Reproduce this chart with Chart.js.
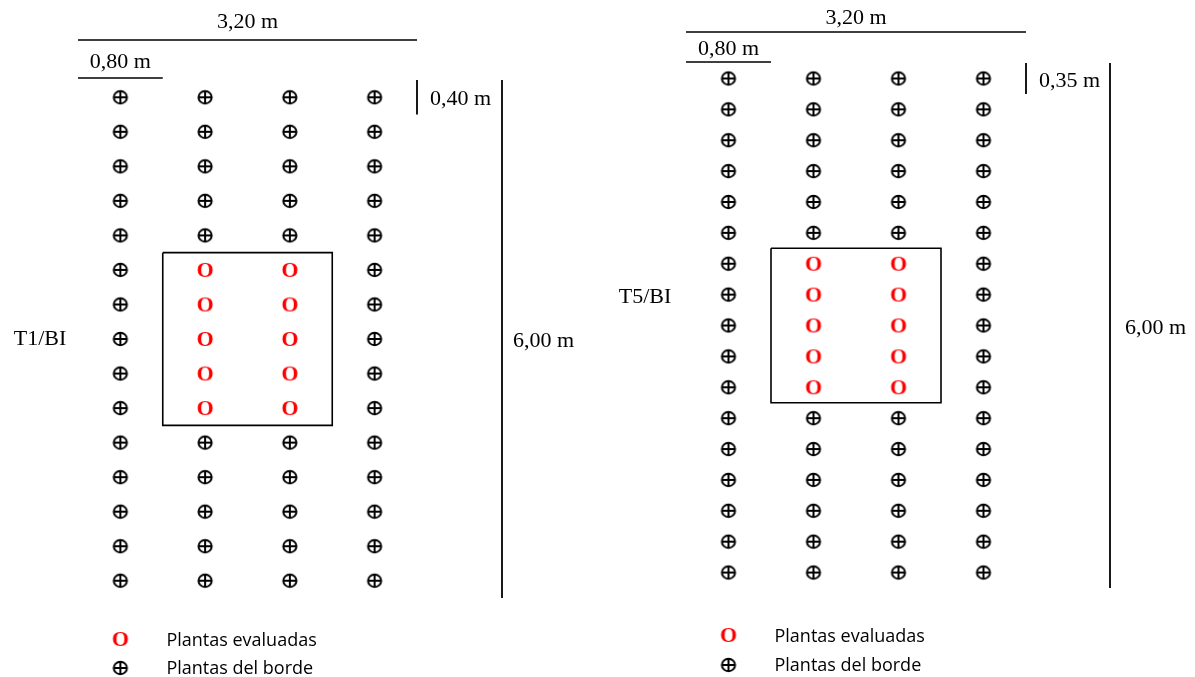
<!DOCTYPE html>
<html>
<head>
<meta charset="utf-8">
<script src="https://cdn.jsdelivr.net/npm/chart.js@4"></script>
<style>
  html, body { margin: 0; padding: 0; background: #fff; }
  #panelT1 { position: absolute; left: 0; top: 0; }
  #panelT5 { position: absolute; left: 598px; top: 0; }
</style>
</head>
<body>
<canvas id="panelT1" width="598" height="677"></canvas>
<canvas id="panelT5" width="597" height="677"></canvas>
<script>
// Datos del croquis (metros)
var anchoParcela = 3.20;
var distColumnas = 0.80;
var columnas = [1, 2, 3, 4];
var columnasEvaluadas = [2, 3];

var filasT1 = [1, 2, 3, 4, 5, 6, 7, 8, 9, 10, 11, 12, 13, 14, 15];
var evaluadasT1 = [6, 7, 8, 9, 10];
var distFilasT1 = 0.40;

var filasT5 = [1, 2, 3, 4, 5, 6, 7, 8, 9, 10, 11, 12, 13, 14, 15, 16, 17];
var evaluadasT5 = [7, 8, 9, 10, 11];
var distFilasT5 = 0.35;

var textoAncho = '3,20 m';
var textoColumna = '0,80 m';
var textoLargo = '6,00 m';
var leyendaEvaluadas = 'Plantas evaluadas';
var leyendaBorde = 'Plantas del borde';

// simbolos para los puntos
function simboloBorde() {
    var c = document.createElement('canvas');
    c.width = 18; c.height = 18;
    var g = c.getContext('2d');
    g.strokeStyle = '#000';
    g.lineWidth = 2;
    g.beginPath();
    g.ellipse(9, 9, 6.6, 6.2, 0, 0, Math.PI * 2);
    g.moveTo(2.4, 9); g.lineTo(15.6, 9);
    g.moveTo(9, 2.8); g.lineTo(9, 15.2);
    g.stroke();
    return c;
}

function simboloEvaluada() {
    var c = document.createElement('canvas');
    c.width = 22; c.height = 22;
    var g = c.getContext('2d');
    g.fillStyle = '#ff0000';
    g.font = 'bold 22px "Liberation Serif"';
    g.textAlign = 'center';
    g.fillText('O', 11, 18);
    return c;
}

var imgBorde = simboloBorde();
var imgEvaluada = simboloEvaluada();

function armarPuntos(filas, evaluadas, dist) {
    var borde = [];
    var evaluada = [];
    for (var i = 0; i < filas.length; i++) {
        for (var j = 0; j < columnas.length; j++) {
            var p = { x: (columnas[j] - 0.5) * distColumnas, y: (filas[i] - 0.5) * dist };
            if (evaluadas.indexOf(filas[i]) >= 0 && columnasEvaluadas.indexOf(columnas[j]) >= 0) {
                evaluada.push(p);
            } else {
                borde.push(p);
            }
        }
    }
    return { borde: borde, evaluada: evaluada };
}

function armarCuadro(evaluadas, dist) {
    var x1 = (Math.min.apply(null, columnasEvaluadas) - 1) * distColumnas;
    var x2 = Math.max.apply(null, columnasEvaluadas) * distColumnas;
    var y1 = (Math.min.apply(null, evaluadas) - 1) * dist;
    var y2 = Math.max.apply(null, evaluadas) * dist;
    return [{ x: x1, y: y1 }, { x: x2, y: y1 }, { x: x2, y: y2 }, { x: x1, y: y2 }, { x: x1, y: y1 }];
}

// cotas, textos y leyenda
var pluginCotas = {
    id: 'cotas',
    afterDraw: function (chart, args, o) {
        var ctx = chart.ctx;
        var sx = chart.scales.x;
        var sy = chart.scales.y;
        var x0 = sx.getPixelForValue(0);
        var x1 = sx.getPixelForValue(distColumnas);
        var xF = sx.getPixelForValue(anchoParcela);
        var yTop = sy.getPixelForValue(0);
        var yFila = sy.getPixelForValue(o.dist);
        var yBot = sy.getPixelForValue(o.largo);
        var xLinea = xF + o.sepLinea;

        ctx.save();
        ctx.strokeStyle = '#000';
        ctx.fillStyle = '#000';
        ctx.lineWidth = 1.6;
        ctx.beginPath();
        ctx.moveTo(x0, o.lineaSup); ctx.lineTo(xF, o.lineaSup);
        ctx.moveTo(x0, o.lineaCol); ctx.lineTo(x1, o.lineaCol);
        ctx.stroke();
        ctx.lineWidth = 1.8;
        ctx.beginPath();
        ctx.moveTo(xF, yTop); ctx.lineTo(xF, yFila);
        ctx.moveTo(xLinea, yTop); ctx.lineTo(xLinea, yBot);
        ctx.stroke();

        ctx.font = '22px "Liberation Serif"';
        ctx.textAlign = 'center';
        ctx.fillText(textoAncho, (x0 + xF) / 2, o.textoSup);
        ctx.fillText(textoColumna, (x0 + x1) / 2, o.textoCol);
        ctx.fillText(o.bloque, x0 - o.sepBloque, o.textoBloque);
        ctx.textAlign = 'left';
        ctx.fillText(o.textoFila, xF + 13, o.yTextoFila);
        ctx.fillText(textoLargo, xLinea + o.sepLargo, o.textoLargo);

        // leyenda
        var xs = sx.getPixelForValue(distColumnas / 2);
        ctx.drawImage(imgEvaluada, xs - 11, o.leyenda1 - 11);
        ctx.drawImage(imgBorde, xs - 9, o.leyenda2 - 9);
        ctx.font = '18px "Open Sans"';
        ctx.fillText(leyendaEvaluadas, xs + 46, o.leyenda1 + 7);
        ctx.fillText(leyendaBorde, xs + 46, o.leyenda2 + 6);
        ctx.restore();
    }
};

function crearPanel(id, filas, evaluadas, dist, padding, cotas) {
    var puntos = armarPuntos(filas, evaluadas, dist);
    var ctx = document.getElementById(id);
    return new Chart(ctx, {
        type: 'scatter',
        data: {
            datasets: [{
                label: leyendaBorde,
                data: puntos.borde,
                pointStyle: imgBorde,
                pointRadius: 7
            }, {
                label: leyendaEvaluadas,
                data: puntos.evaluada,
                pointStyle: imgEvaluada,
                pointRadius: 8
            }, {
                label: 'cuadro',
                data: armarCuadro(evaluadas, dist),
                showLine: true,
                pointRadius: 0,
                borderColor: '#000',
                borderWidth: 1.6,
                fill: false
            }]
        },
        options: {
            responsive: false,
            animation: false,
            devicePixelRatio: 1,
            layout: { padding: padding },
            scales: {
                x: { type: 'linear', min: 0, max: anchoParcela, display: false },
                y: { type: 'linear', min: 0, max: filas.length * dist, reverse: true, display: false }
            },
            plugins: {
                legend: { display: false },
                tooltip: { enabled: false },
                cotas: cotas
            }
        },
        plugins: [pluginCotas]
    });
}

crearPanel('panelT1', filasT1, evaluadasT1, distFilasT1,
    { left: 78, right: 181, top: 80, bottom: 79 },
    {
        dist: distFilasT1, largo: filasT1.length * distFilasT1, bloque: 'T1/BI', textoFila: '0,40 m',
        lineaSup: 40, lineaCol: 78, textoSup: 28, textoCol: 68, yTextoFila: 105,
        sepLinea: 85, sepLargo: 11, textoLargo: 347, sepBloque: 38, textoBloque: 345,
        leyenda1: 639, leyenda2: 668
    });

crearPanel('panelT5', filasT5, evaluadasT5, distFilasT5,
    { left: 88, right: 169, top: 63, bottom: 89 },
    {
        dist: distFilasT5, largo: filasT5.length * distFilasT5, bloque: 'T5/BI', textoFila: '0,35 m',
        lineaSup: 32, lineaCol: 62, textoSup: 24, textoCol: 55, yTextoFila: 87,
        sepLinea: 84, sepLargo: 15, textoLargo: 334, sepBloque: 41, textoBloque: 303,
        leyenda1: 635, leyenda2: 665
    });
</script>
</body>
</html>
